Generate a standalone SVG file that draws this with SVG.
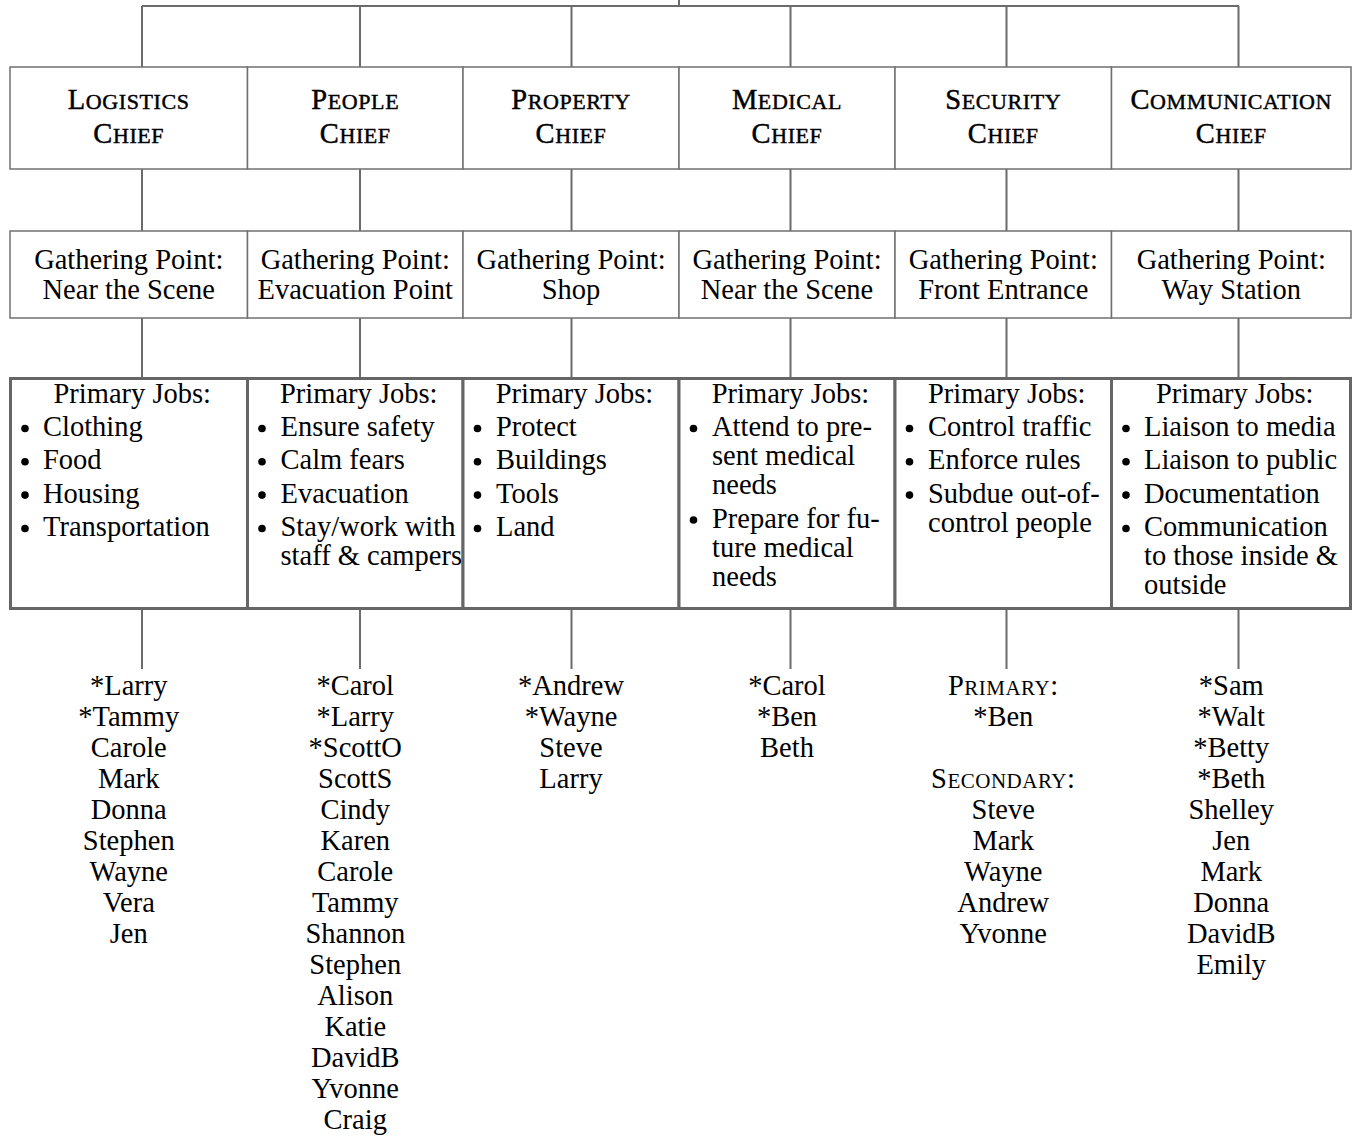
<svg xmlns="http://www.w3.org/2000/svg" width="1356" height="1136" viewBox="0 0 1356 1136">
<style>
text{font-family:"Liberation Serif","Times New Roman",serif;font-size:28.5px;fill:#000}
.c{text-anchor:middle}
.sc{text-anchor:middle;font-size:28.5px;letter-spacing:0.6px}
.ch{stroke:#000;stroke-width:0.45}
.sm{font-size:22px}
.sm2{font-size:21px}
.bx{fill:#fff;stroke:#707070;stroke-width:1.5}
.pb{fill:#fff;stroke:#666;stroke-width:3}
.ln{stroke:#6b6b6b;stroke-width:2;fill:none}
.bu{fill:#000}
</style>
<rect width="1356" height="1136" fill="#fff"/>
<g id="connectors">
<path class="ln" d="M679 0V6M142 6H1239M142 6V67M360 6V67M571.5 6V67M790.5 6V67M1006.5 6V67M1238.5 6V67"/>
<path class="ln" d="M142 169V231M360 169V231M571.5 169V231M790.5 169V231M1006.5 169V231M1238.5 169V231"/>
<path class="ln" d="M142 318V377M360 318V377M571.5 318V377M790.5 318V377M1006.5 318V377M1238.5 318V377"/>
<path class="ln" d="M142 610V669M360 610V669M571.5 610V669M790.5 610V669M1006.5 610V669M1238.5 610V669"/>
</g>
<g id="chief-logistics"><rect class="bx" x="10" y="67" width="237.5" height="102"/>
<text class="sc ch" x="128.75" y="109.3">L<tspan class="sm">OGISTICS</tspan></text>
<text class="sc ch" x="128.75" y="143.3">C<tspan class="sm">HIEF</tspan></text></g>
<g id="chief-people"><rect class="bx" x="247.5" y="67" width="215.5" height="102"/>
<text class="sc ch" x="355.25" y="109.3">P<tspan class="sm">EOPLE</tspan></text>
<text class="sc ch" x="355.25" y="143.3">C<tspan class="sm">HIEF</tspan></text></g>
<g id="chief-property"><rect class="bx" x="463" y="67" width="216" height="102"/>
<text class="sc ch" x="571" y="109.3">P<tspan class="sm">ROPERTY</tspan></text>
<text class="sc ch" x="571" y="143.3">C<tspan class="sm">HIEF</tspan></text></g>
<g id="chief-medical"><rect class="bx" x="679" y="67" width="216" height="102"/>
<text class="sc ch" x="787" y="109.3">M<tspan class="sm">EDICAL</tspan></text>
<text class="sc ch" x="787" y="143.3">C<tspan class="sm">HIEF</tspan></text></g>
<g id="chief-security"><rect class="bx" x="895" y="67" width="216.5" height="102"/>
<text class="sc ch" x="1003.25" y="109.3">S<tspan class="sm">ECURITY</tspan></text>
<text class="sc ch" x="1003.25" y="143.3">C<tspan class="sm">HIEF</tspan></text></g>
<g id="chief-communication"><rect class="bx" x="1111.5" y="67" width="239.5" height="102"/>
<text class="sc ch" x="1231.25" y="109.3">C<tspan class="sm">OMMUNICATION</tspan></text>
<text class="sc ch" x="1231.25" y="143.3">C<tspan class="sm">HIEF</tspan></text></g>

<g id="gp-logistics"><rect class="bx" x="10" y="231" width="237.5" height="87"/>
<text class="c" x="128.75" y="269.3">Gathering Point:</text><text class="c" x="128.75" y="298.5">Near the Scene</text></g>
<g id="gp-people"><rect class="bx" x="247.5" y="231" width="215.5" height="87"/>
<text class="c" x="355.25" y="269.3">Gathering Point:</text><text class="c" x="355.25" y="298.5">Evacuation Point</text></g>
<g id="gp-property"><rect class="bx" x="463" y="231" width="216" height="87"/>
<text class="c" x="571" y="269.3">Gathering Point:</text><text class="c" x="571" y="298.5">Shop</text></g>
<g id="gp-medical"><rect class="bx" x="679" y="231" width="216" height="87"/>
<text class="c" x="787" y="269.3">Gathering Point:</text><text class="c" x="787" y="298.5">Near the Scene</text></g>
<g id="gp-security"><rect class="bx" x="895" y="231" width="216.5" height="87"/>
<text class="c" x="1003.25" y="269.3">Gathering Point:</text><text class="c" x="1003.25" y="298.5">Front Entrance</text></g>
<g id="gp-communication"><rect class="bx" x="1111.5" y="231" width="239.5" height="87"/>
<text class="c" x="1231.25" y="269.3">Gathering Point:</text><text class="c" x="1231.25" y="298.5">Way Station</text></g>

<g id="jobs-logistics"><rect class="pb" x="10.5" y="378.5" width="237" height="230"/>
<text class="c" x="132.25" y="403.3">Primary Jobs:</text>
<circle class="bu" cx="25" cy="428.5" r="3.8"/><text x="43" y="436">Clothing</text>
<circle class="bu" cx="25" cy="461.8" r="3.8"/><text x="43" y="469.3">Food</text>
<circle class="bu" cx="25" cy="495.1" r="3.8"/><text x="43" y="502.6">Housing</text>
<circle class="bu" cx="25" cy="528.5" r="3.8"/><text x="43" y="536">Transportation</text></g>
<g id="jobs-people"><rect class="pb" x="247.5" y="378.5" width="215.5" height="230"/>
<text class="c" x="358.75" y="403.3">Primary Jobs:</text>
<circle class="bu" cx="262" cy="428.5" r="3.8"/><text x="280.5" y="436">Ensure safety</text>
<circle class="bu" cx="262" cy="461.8" r="3.8"/><text x="280.5" y="469.3">Calm fears</text>
<circle class="bu" cx="262" cy="495.1" r="3.8"/><text x="280.5" y="502.6">Evacuation</text>
<circle class="bu" cx="262" cy="528.5" r="3.8"/><text x="280.5" y="536">Stay/work with</text><text x="280.5" y="565">staff &amp; campers</text></g>
<g id="jobs-property"><rect class="pb" x="463" y="378.5" width="216" height="230"/>
<text class="c" x="574.5" y="403.3">Primary Jobs:</text>
<circle class="bu" cx="477.5" cy="428.5" r="3.8"/><text x="496" y="436">Protect</text>
<circle class="bu" cx="477.5" cy="461.8" r="3.8"/><text x="496" y="469.3">Buildings</text>
<circle class="bu" cx="477.5" cy="495.1" r="3.8"/><text x="496" y="502.6">Tools</text>
<circle class="bu" cx="477.5" cy="528.5" r="3.8"/><text x="496" y="536">Land</text></g>
<g id="jobs-medical"><rect class="pb" x="679" y="378.5" width="216" height="230"/>
<text class="c" x="790.5" y="403.3">Primary Jobs:</text>
<circle class="bu" cx="693.5" cy="428.5" r="3.8"/><text x="712" y="436">Attend to pre-</text><text x="712" y="465">sent medical</text><text x="712" y="494">needs</text>
<circle class="bu" cx="693.5" cy="520" r="3.8"/><text x="712" y="527.5">Prepare for fu-</text><text x="712" y="556.5">ture medical</text><text x="712" y="585.5">needs</text></g>
<g id="jobs-security"><rect class="pb" x="895" y="378.5" width="216.5" height="230"/>
<text class="c" x="1006.75" y="403.3">Primary Jobs:</text>
<circle class="bu" cx="909.5" cy="428.5" r="3.8"/><text x="928" y="436">Control traffic</text>
<circle class="bu" cx="909.5" cy="461.8" r="3.8"/><text x="928" y="469.3">Enforce rules</text>
<circle class="bu" cx="909.5" cy="495.1" r="3.8"/><text x="928" y="502.6">Subdue out-of-</text><text x="928" y="531.6">control people</text></g>
<g id="jobs-communication"><rect class="pb" x="1111.5" y="378.5" width="239" height="230"/>
<text class="c" x="1234.75" y="403.3">Primary Jobs:</text>
<circle class="bu" cx="1126" cy="428.5" r="3.8"/><text x="1144" y="436">Liaison to media</text>
<circle class="bu" cx="1126" cy="461.8" r="3.8"/><text x="1144" y="469.3">Liaison to public</text>
<circle class="bu" cx="1126" cy="495.1" r="3.8"/><text x="1144" y="502.6">Documentation</text>
<circle class="bu" cx="1126" cy="528.5" r="3.8"/><text x="1144" y="536">Communication</text><text x="1144" y="565">to those inside &amp;</text><text x="1144" y="594">outside</text></g>

<g id="names-logistics"><text class="c" x="128.75" y="695">*Larry</text><text class="c" x="128.75" y="726">*Tammy</text><text class="c" x="128.75" y="757">Carole</text><text class="c" x="128.75" y="788">Mark</text><text class="c" x="128.75" y="819">Donna</text><text class="c" x="128.75" y="850">Stephen</text><text class="c" x="128.75" y="881">Wayne</text><text class="c" x="128.75" y="912">Vera</text><text class="c" x="128.75" y="943">Jen</text></g>
<g id="names-people"><text class="c" x="355.25" y="695">*Carol</text><text class="c" x="355.25" y="726">*Larry</text><text class="c" x="355.25" y="757">*ScottO</text><text class="c" x="355.25" y="788">ScottS</text><text class="c" x="355.25" y="819">Cindy</text><text class="c" x="355.25" y="850">Karen</text><text class="c" x="355.25" y="881">Carole</text><text class="c" x="355.25" y="912">Tammy</text><text class="c" x="355.25" y="943">Shannon</text><text class="c" x="355.25" y="974">Stephen</text><text class="c" x="355.25" y="1005">Alison</text><text class="c" x="355.25" y="1036">Katie</text><text class="c" x="355.25" y="1067">DavidB</text><text class="c" x="355.25" y="1098">Yvonne</text><text class="c" x="355.25" y="1129">Craig</text></g>
<g id="names-property"><text class="c" x="571" y="695">*Andrew</text><text class="c" x="571" y="726">*Wayne</text><text class="c" x="571" y="757">Steve</text><text class="c" x="571" y="788">Larry</text></g>
<g id="names-medical"><text class="c" x="787" y="695">*Carol</text><text class="c" x="787" y="726">*Ben</text><text class="c" x="787" y="757">Beth</text></g>
<g id="names-security"><text class="sc" x="1003.25" y="695" style="letter-spacing:0.5px">P<tspan class="sm2">RIMARY</tspan>:</text><text class="c" x="1003.25" y="726">*Ben</text><text class="sc" x="1003.25" y="788" style="letter-spacing:0.5px">S<tspan class="sm2">ECONDARY</tspan>:</text><text class="c" x="1003.25" y="819">Steve</text><text class="c" x="1003.25" y="850">Mark</text><text class="c" x="1003.25" y="881">Wayne</text><text class="c" x="1003.25" y="912">Andrew</text><text class="c" x="1003.25" y="943">Yvonne</text></g>
<g id="names-communication"><text class="c" x="1231.25" y="695">*Sam</text><text class="c" x="1231.25" y="726">*Walt</text><text class="c" x="1231.25" y="757">*Betty</text><text class="c" x="1231.25" y="788">*Beth</text><text class="c" x="1231.25" y="819">Shelley</text><text class="c" x="1231.25" y="850">Jen</text><text class="c" x="1231.25" y="881">Mark</text><text class="c" x="1231.25" y="912">Donna</text><text class="c" x="1231.25" y="943">DavidB</text><text class="c" x="1231.25" y="974">Emily</text></g>
</svg>
